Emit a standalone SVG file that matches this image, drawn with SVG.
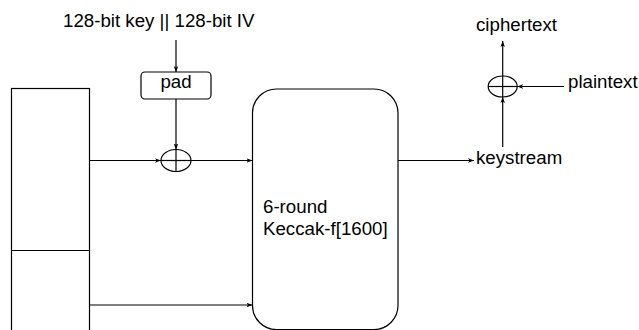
<svg xmlns="http://www.w3.org/2000/svg" width="639" height="330" viewBox="0 0 639 330">
<style>
.ln{fill:none;stroke:#000;stroke-width:1.2}
.sh{fill:#fff;stroke:#000;stroke-width:1.2}
text{font-family:"Liberation Sans",Arial,sans-serif;font-size:18.7px;fill:#000}
</style>
<defs>
<marker id="ah" viewBox="0 0 6 4.5" refX="6" refY="2.25" markerWidth="6" markerHeight="4.5" markerUnits="userSpaceOnUse" orient="auto">
<path d="M0,0 L6,2.25 L0,4.5 L1.5,2.25 Z" fill="#000"/>
</marker>
</defs>
<rect width="639" height="330" fill="#fff"/>
<g id="state">
<rect class="sh" x="11.5" y="88.5" width="78" height="250"/>
<line class="ln" x1="11.5" y1="250.5" x2="89.5" y2="250.5"/>
</g>
<g id="input-label">
<text x="63" y="26.5">128-bit key || 128-bit IV</text>
</g>
<g id="pad">
<rect class="sh" x="141" y="72" width="70" height="27" rx="4"/>
<text x="176" y="88" text-anchor="middle">pad</text>
</g>
<g id="xor1">
<ellipse class="sh" cx="176" cy="160.5" rx="15" ry="11"/>
<line class="ln" x1="176" y1="149.5" x2="176" y2="171.5"/>
<line class="ln" x1="161" y1="160.5" x2="191" y2="160.5"/>
</g>
<g id="keccak">
<rect class="sh" x="252.5" y="89" width="145.5" height="240.5" rx="24"/>
<text x="263" y="213">6-round</text>
<text x="263" y="235">Keccak-f[1600]</text>
</g>
<g id="keystream">
<text x="476" y="164">keystream</text>
</g>
<g id="xor2">
<ellipse class="sh" cx="502.7" cy="86.5" rx="14.5" ry="10.5"/>
<line class="ln" x1="502.7" y1="76" x2="502.7" y2="97"/>
<line class="ln" x1="488.2" y1="86.5" x2="517.2" y2="86.5"/>
</g>
<g id="ciphertext">
<text x="476" y="31">ciphertext</text>
</g>
<g id="plaintext">
<text x="568" y="88">plaintext</text>
</g>
<g id="connectors">
<line class="ln" x1="176" y1="40" x2="176" y2="72" marker-end="url(#ah)"/>
<line class="ln" x1="176" y1="99" x2="176" y2="149.5" marker-end="url(#ah)"/>
<line class="ln" x1="89.5" y1="160.5" x2="161" y2="160.5" marker-end="url(#ah)"/>
<line class="ln" x1="191" y1="160.5" x2="252.5" y2="160.5" marker-end="url(#ah)"/>
<line class="ln" x1="89.5" y1="305" x2="252.5" y2="305" marker-end="url(#ah)"/>
<line class="ln" x1="398" y1="160.5" x2="474" y2="160.5" marker-end="url(#ah)"/>
<line class="ln" x1="502.7" y1="147" x2="502.7" y2="97" marker-end="url(#ah)"/>
<line class="ln" x1="502.7" y1="76" x2="502.7" y2="41" marker-end="url(#ah)"/>
<line class="ln" x1="564" y1="86.5" x2="517.2" y2="86.5" marker-end="url(#ah)"/>
</g>
</svg>
